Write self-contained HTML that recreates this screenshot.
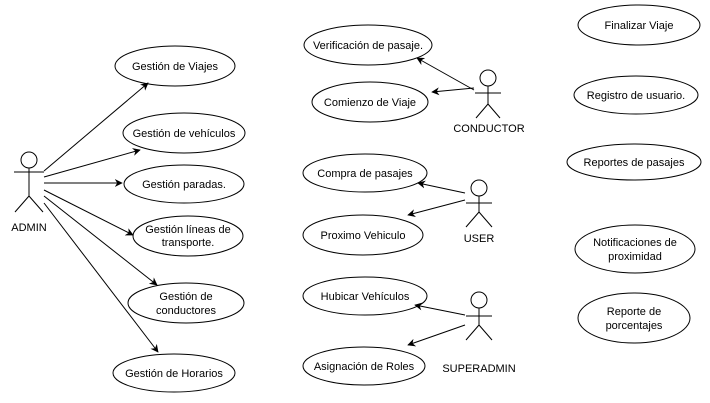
<!DOCTYPE html>
<html><head><meta charset="utf-8"><style>html,body{margin:0;padding:0;background:#fff}svg{display:block}text{font-family:"Liberation Sans",Arial,sans-serif;font-size:11px;fill:#000}</style></head><body>
<svg width="710" height="403" viewBox="0 0 710 403" xmlns="http://www.w3.org/2000/svg">
<defs><marker id="a" viewBox="0 0 10 10" refX="9" refY="5" markerWidth="8" markerHeight="8" orient="auto" markerUnits="userSpaceOnUse"><path d="M0,0 L10,5 L0,10 L3,5 z" fill="#000"/></marker></defs>
<g fill="#fff" stroke="#000" stroke-width="1">
<ellipse cx="175" cy="66" rx="60" ry="20"/>
<ellipse cx="184" cy="133" rx="61" ry="20"/>
<ellipse cx="184" cy="184" rx="60" ry="19"/>
<ellipse cx="188" cy="236" rx="55" ry="20"/>
<ellipse cx="186" cy="303" rx="58" ry="20"/>
<ellipse cx="174" cy="373" rx="61" ry="19"/>
<ellipse cx="368" cy="45" rx="64" ry="20"/>
<ellipse cx="370" cy="102" rx="58" ry="20"/>
<ellipse cx="365" cy="173" rx="62" ry="19"/>
<ellipse cx="363" cy="235" rx="60" ry="20"/>
<ellipse cx="365" cy="296" rx="62" ry="19"/>
<ellipse cx="364" cy="366" rx="61" ry="19"/>
<ellipse cx="639" cy="25" rx="61" ry="20"/>
<ellipse cx="636" cy="95" rx="62" ry="19"/>
<ellipse cx="634" cy="162" rx="67" ry="18"/>
<ellipse cx="635" cy="249" rx="60" ry="24"/>
<ellipse cx="634" cy="318" rx="56" ry="25"/>
</g>
<g stroke="#000" stroke-width="1" fill="none" marker-end="url(#a)">
<line x1="44" y1="171" x2="148" y2="83"/>
<line x1="44" y1="177" x2="140" y2="150"/>
<line x1="44" y1="183" x2="122" y2="183"/>
<line x1="44" y1="190" x2="133" y2="235"/>
<line x1="44" y1="196" x2="157" y2="285"/>
<line x1="44" y1="203" x2="158" y2="352"/>
<line x1="474" y1="90" x2="417" y2="58"/>
<line x1="474" y1="88" x2="432" y2="92"/>
<line x1="465" y1="193" x2="418" y2="183"/>
<line x1="465" y1="200" x2="408" y2="215"/>
<line x1="465" y1="315" x2="415" y2="305"/>
<line x1="465" y1="325" x2="408" y2="345"/>
</g>
<g stroke="#000" stroke-width="1" fill="#fff">
<circle cx="29" cy="160" r="8"/><path d="M29 168V196M14 172H44M29 196L15 212M29 196L43 212" fill="none"/>
<circle cx="488" cy="78" r="8"/><path d="M488 86V104M475 93H501M488 104L476 118M488 104L500 118" fill="none"/>
<circle cx="479" cy="188" r="8"/><path d="M479 196V212M466 203H492M479 212L466 227M479 212L492 227" fill="none"/>
<circle cx="479" cy="300" r="8"/><path d="M479 308V325M466 316H492M479 325L466 340M479 325L492 340" fill="none"/>
</g>
<g text-anchor="middle">
<text x="29" y="231">ADMIN</text>
<text x="489" y="132">CONDUCTOR</text>
<text x="479" y="242">USER</text>
<text x="479" y="372">SUPERADMIN</text>
<text x="175" y="70">Gestión de Viajes</text>
<text x="184" y="137">Gestión de vehículos</text>
<text x="184" y="188">Gestión paradas.</text>
<text x="188" y="233">Gestión líneas de</text><text x="188" y="246">transporte.</text>
<text x="186" y="300">Gestión de</text><text x="186" y="314">conductores</text>
<text x="174" y="377">Gestión de Horarios</text>
<text x="368" y="49">Verificación de pasaje.</text>
<text x="370" y="106">Comienzo de Viaje</text>
<text x="365" y="177">Compra de pasajes</text>
<text x="363" y="239">Proximo Vehiculo</text>
<text x="365" y="300">Hubicar Vehículos</text>
<text x="364" y="370">Asignación de Roles</text>
<text x="639" y="29">Finalizar Viaje</text>
<text x="636" y="99">Registro de usuario.</text>
<text x="634" y="166">Reportes de pasajes</text>
<text x="635" y="246">Notificaciones de</text><text x="635" y="260">proximidad</text>
<text x="634" y="315">Reporte de</text><text x="634" y="329">porcentajes</text>
</g>
</svg>
</body></html>
